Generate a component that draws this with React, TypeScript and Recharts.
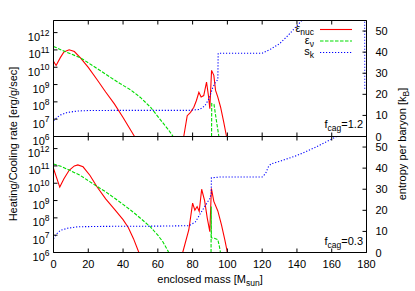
import React from 'react';
import { LineChart, Line, XAxis, YAxis } from 'recharts';

// ---------- tick labels ----------
const X_TICKS = [0, 20, 40, 60, 80, 100, 120, 140, 160, 180];
const LOG_TICKS = [1e6, 1e7, 1e8, 1e9, 1e10, 1e11, 1e12];
const S_TICKS = [0, 10, 20, 30, 40, 50];

// ---------- top panel: f_cag = 1.2 ----------
const nucMassTop = [0, 1.5, 4, 6, 9, 12, 15.5, 20, 25, 30, 35, 40, 46.6, 60, 74.9, 76.9, 78.8, 80.7, 82.2, 83.6, 84.9, 86.4, 88.0, 89.1, 89.9, 90.9, 92.2, 93.2, 94.5, 96.1, 97.9, 99.5];
const nucTop = [2.2e10, 1.26e10, 3.7e10, 7.6e10, 1.02e11, 8.1e10, 3.5e10, 9.8e9, 1.95e9, 3.7e8, 7.6e7, 1.26e7, 1e6, null, 1e6, 1.6e7, 2.5e7, 4.9e7, 1.2e8, 3.6e8, 1.9e8, 2.3e8, 1.4e9, 2.3e8, 4e7, 6.6e9, 3.4e9, 4.6e8, 1.9e8, 4.9e7, 6.8e6, 1e6];

const nuMassTop = [0, 5, 10, 15.5, 20, 27, 33, 38.5, 44.3, 50, 55.8, 62, 66, 68.8, 80, 90.9, 91.0, 92.3, 93.7, 95.1];
const nuTop = [1.6e11, 9.5e10, 5.9e10, 3.5e10, 1.8e10, 6.3e9, 2.5e9, 1.1e9, 5e8, 1.8e8, 4.9e7, 7.9e6, 2.5e6, 1e6, null, 1e6, 7.9e7, 7.1e7, 8e6, 1e6];

const sMassTop = [0, 2, 4, 8, 14, 20, 40, 60, 78, 84, 87, 89.5, 91.5, 93, 94.5, 94.7, 120, 125, 130, 135, 140, 145, 160, 178.9, 179];
const sTop = [7.4, 9, 10.2, 11.4, 12.1, 12.3, 12.4, 12.4, 12.4, 12.8, 14.5, 18, 23, 25.5, 27, 39.5, 39.5, 41.5, 44, 48, 52.5, 57, 65, 72, 21.8];

// ---------- bottom panel: f_cag = 0.3 ----------
const nucMassBot = [0, 3.6, 6, 9, 12, 14, 17, 21, 25, 30, 35, 40, 43, 46, 49.1, 60, 74.3, 77.8, 80.0, 81.3, 82.6, 83.8, 85.2, 86.9, 88.4, 89.9, 90.8, 92.2, 94.5, 96.6, 98.5, 100];
const nucBot = [7.1e10, 6e9, 1.8e10, 5.6e10, 1e11, 1.15e11, 8.9e10, 2.8e10, 6.3e9, 1.26e9, 3.2e8, 7.9e7, 2.8e7, 6.3e6, 1e6, null, 1e6, 2e7, 7.1e8, 2.8e8, 4.5e8, 2.4e8, 4.5e9, 1e9, 1e8, 1.6e7, 5e9, 9e8, 2.5e8, 4e7, 5.6e6, 1e6];

const nuMassBot = [0, 5, 10, 15, 20, 25, 30, 35, 40, 45, 50, 55.6, 60, 63, 66.3, 80, 90.6, 90.7, 90.8, 92.5, 94.5, 95.5, 96];
const nuBot = [1.3e11, 8.9e10, 5.2e10, 3e10, 1.4e10, 6.6e9, 3.2e9, 1.4e9, 6e8, 2.5e8, 9.5e7, 3.1e7, 1e7, 4e6, 1e6, null, 1e6, 4.5e8, 7e6, 6.6e6, 5.6e6, 2e6, 1e6];

const sMassBot = [0, 2, 4, 8, 14, 30, 60, 78, 81.6, 84.5, 87.4, 89.9, 90.7, 90.8, 96, 120, 122, 123.5, 125, 130, 140, 150, 160, 165, 180];
const sBot = [6.5, 9, 10.5, 11.5, 12.2, 12.4, 12.5, 12.7, 14.5, 18.5, 22.4, 25.6, 28, 35.4, 35.8, 35.8, 37.5, 40.5, 42, 43.2, 46, 49.6, 53.8, 56, 63];

const rows = (m: number[], v: (number | null)[]) => m.map((x, i) => ({ m: x, v: v[i] }));

const FONT = '"Liberation Sans", Arial, Helvetica, sans-serif';
const INK = '#000';
const TL = 4;
const RED = '#ff0000';
const GREEN = '#00dd00';
const BLUE = '#0000ff';
const GREEN_DASH = '3.5 1.5';
const BLUE_DASH = '1.2 1.8';

function XTickBottom(props: any) {
  const { x, y, payload, showLabel } = props;
  return (
    <g>
      <line x1={x} y1={y} x2={x} y2={y - TL} stroke={INK} strokeWidth={1} />
      {showLabel ? (
        <text x={x} y={y + 15} textAnchor="middle" fontSize={11} fontFamily={FONT} fill={INK}>
          {payload.value}
        </text>
      ) : null}
    </g>
  );
}

function XTickTop(props: any) {
  const { x, y } = props;
  return <line x1={x} y1={y} x2={x} y2={y + TL} stroke={INK} strokeWidth={1} />;
}

function LogTick(props: any) {
  const { x, y, payload } = props;
  const e = Math.round(Math.log10(payload.value));
  return (
    <g>
      <line x1={x} y1={y} x2={x + TL} y2={y} stroke={INK} strokeWidth={1} />
      <text x={x - 4} y={y + 8.5} textAnchor="end" fontSize={11} fontFamily={FONT} fill={INK}>
        <tspan>10</tspan>
        <tspan dy={-5.5} fontSize={8.5}>{e}</tspan>
      </text>
    </g>
  );
}

function RightTick(props: any) {
  const { x, y, payload } = props;
  return (
    <g>
      <line x1={x} y1={y} x2={x - TL} y2={y} stroke={INK} strokeWidth={1} />
      <text x={x + 9} y={y + 4} textAnchor="start" fontSize={11} fontFamily={FONT} fill={INK}>
        {payload.value}
      </text>
    </g>
  );
}

function Panel(props: {
  height: number;
  top: number;
  marginTop: number;
  bottomAxisHeight: number;
  showXLabels: boolean;
  nuc: any[];
  nu: any[];
  s: any[];
}) {
  const { height, top, marginTop, bottomAxisHeight, showXLabels, nuc, nu, s } = props;
  return (
    <div style={{ position: 'absolute', left: 0, top }}>
      <LineChart width={415} height={height} margin={{ top: marginTop, right: 0, bottom: 0, left: 0.5 }}>
        <XAxis
          xAxisId="b"
          type="number"
          dataKey="m"
          domain={[0, 180]}
          ticks={X_TICKS}
          allowDataOverflow
          height={bottomAxisHeight}
          tickSize={0}
          tickMargin={0}
          tickLine={false}
          axisLine={{ stroke: INK, strokeWidth: 1 }}
          tick={(p: any) => <XTickBottom {...p} showLabel={showXLabels} />}
          interval={0}
        />
        <XAxis
          xAxisId="t"
          orientation="top"
          type="number"
          dataKey="m"
          domain={[0, 180]}
          ticks={X_TICKS}
          allowDataOverflow
          height={1}
          tickSize={0}
          tickMargin={0}
          tickLine={false}
          axisLine={{ stroke: INK, strokeWidth: 1 }}
          tick={(p: any) => <XTickTop {...p} />}
          interval={0}
        />
        <YAxis
          yAxisId="l"
          scale="log"
          type="number"
          domain={[1e6, 5e12]}
          ticks={LOG_TICKS}
          allowDataOverflow
          width={53}
          tickSize={0}
          tickMargin={0}
          tickLine={false}
          axisLine={{ stroke: INK, strokeWidth: 1 }}
          tick={(p: any) => <LogTick {...p} />}
          interval={0}
        />
        <YAxis
          yAxisId="r"
          orientation="right"
          type="number"
          domain={[0, 55]}
          ticks={S_TICKS}
          allowDataOverflow
          width={48.5}
          tickSize={0}
          tickMargin={0}
          tickLine={false}
          axisLine={{ stroke: INK, strokeWidth: 1 }}
          tick={(p: any) => <RightTick {...p} />}
          interval={0}
        />
        <Line xAxisId="b" yAxisId="l" data={nuc} dataKey="v" type="linear" stroke={RED} strokeWidth={1.1} dot={false} isAnimationActive={false} connectNulls={false} />
        <Line xAxisId="b" yAxisId="l" data={nu} dataKey="v" type="linear" stroke={GREEN} strokeWidth={1.1} strokeDasharray={GREEN_DASH} dot={false} isAnimationActive={false} connectNulls={false} />
        <Line xAxisId="b" yAxisId="r" data={s} dataKey="v" type="linear" stroke={BLUE} strokeWidth={1.1} strokeDasharray={BLUE_DASH} dot={false} isAnimationActive={false} connectNulls={false} />
      </LineChart>
    </div>
  );
}

export default function App() {
  return (
    <div style={{ position: 'absolute', left: 0, top: 0, width: 415, height: 291, background: '#fff', overflow: 'hidden' }}>
      <Panel height={161} top={130} marginTop={5.5} bottomAxisHeight={38.5} showXLabels={true}
        nuc={rows(nucMassBot, nucBot)} nu={rows(nuMassBot, nuBot)} s={rows(sMassBot, sBot)} />
      <Panel height={150} top={0} marginTop={19.5} bottomAxisHeight={13.5} showXLabels={false}
        nuc={rows(nucMassTop, nucTop)} nu={rows(nuMassTop, nuTop)} s={rows(sMassTop, sTop)} />
      <svg width={415} height={291} style={{ position: 'absolute', left: 0, top: 0, pointerEvents: 'none' }}
        fontFamily={FONT} fill={INK}>
        <text transform="translate(17,144) rotate(-90)" textAnchor="middle" fontSize={11}>
          Heating/Cooling rate [erg/g/sec]
        </text>
        <text transform="translate(406,144) rotate(-90)" textAnchor="middle" fontSize={11}>
          <tspan>entropy per baryon [k</tspan>
          <tspan fontSize={8.5} dy={3}>B</tspan>
          <tspan dy={-3}>]</tspan>
        </text>
        <text x={210} y={283} textAnchor="middle" fontSize={11}>
          <tspan>enclosed mass [M</tspan>
          <tspan fontSize={8.5} dy={3}>sun</tspan>
          <tspan dy={-3}>]</tspan>
        </text>
        {/* legend */}
        <text x={314} y={32} textAnchor="end" fontSize={11}>
          <tspan>ε</tspan>
          <tspan fontSize={8.5} dy={3}>nuc</tspan>
        </text>
        <line x1={320} y1={29.5} x2={352} y2={29.5} stroke={RED} strokeWidth={1.1} />
        <text x={314} y={43.5} textAnchor="end" fontSize={11}>
          <tspan>ε</tspan>
          <tspan fontSize={8.5} dy={3}>ν</tspan>
        </text>
        <line x1={320} y1={41} x2={352} y2={41} stroke={GREEN} strokeWidth={1.1} strokeDasharray={GREEN_DASH} />
        <text x={314} y={55} textAnchor="end" fontSize={11}>
          <tspan>s</tspan>
          <tspan fontSize={8.5} dy={3}>k</tspan>
        </text>
        <line x1={320} y1={52.5} x2={352} y2={52.5} stroke={BLUE} strokeWidth={1.1} strokeDasharray={BLUE_DASH} />
        {/* panel notes */}
        <text x={363} y={128} textAnchor="end" fontSize={11}>
          <tspan>f</tspan>
          <tspan fontSize={8.5} dy={3}>cag</tspan>
          <tspan dy={-3}>=1.2</tspan>
        </text>
        <text x={363} y={244.5} textAnchor="end" fontSize={11}>
          <tspan>f</tspan>
          <tspan fontSize={8.5} dy={3}>cag</tspan>
          <tspan dy={-3}>=0.3</tspan>
        </text>
      </svg>
    </div>
  );
}
